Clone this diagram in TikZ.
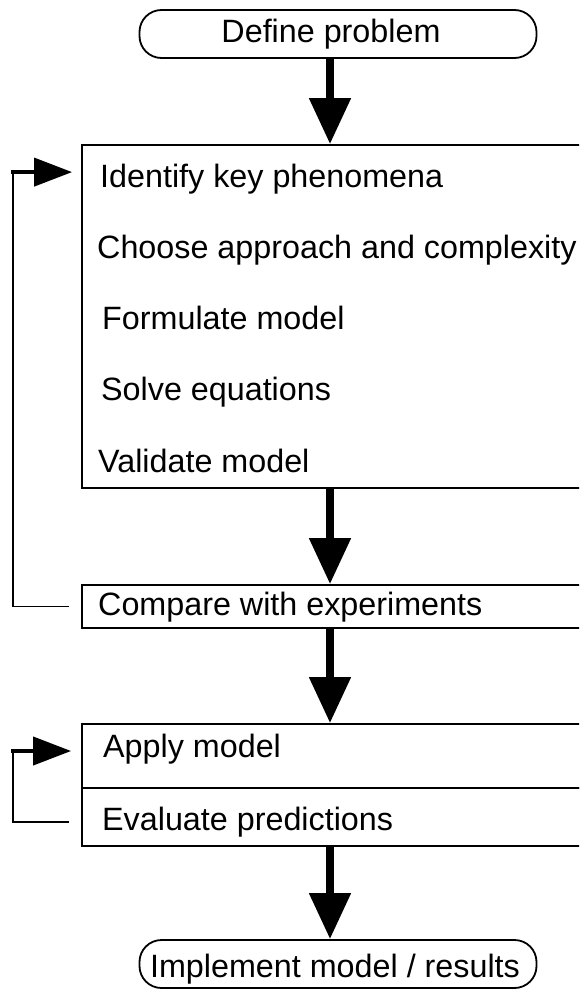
\documentclass[tikz,border=0pt]{standalone}
\usepackage{fontspec}
\setmainfont{Liberation Sans}
\usetikzlibrary{arrows.meta}
\begin{document}
\begin{tikzpicture}[x=1pt,y=-1pt,
  every node/.style={font=\fontsize{32.3}{38}\selectfont},
  box/.style={draw, line width=1.8pt, inner sep=0pt},
  term/.style={draw, line width=1.8pt, inner sep=0pt, rounded corners=22pt, minimum width=397pt, minimum height=48pt},
  label/.style={anchor=base west, inner sep=0pt},
  bigarrow/.style={line width=8pt, -{Triangle[length=46pt,width=40pt]}},
  fbline/.style={line width=1.8pt},
  fbtip/.style={line width=4pt, -{Triangle[length=38pt,width=28pt]}}]
\useasboundingbox (0,0) rectangle (579,990);
\clip (0,0) rectangle (579,990);
% terminals
\node[term] (define) at (338,34) {};
\node[anchor=base] (definet) at (331,43) {Define problem};
\node[term] (implement) at (338,964) {};
\node[anchor=base] (implementt) at (335,977) {Implement model / results};
% main box
\node[box, minimum width=518pt, minimum height=343pt] (main) at (341,316.5) {};
\node[label] (t1) at (100,187) {Identify key phenomena};
\node[label] (t2) at (97,258) {Choose approach and complexity};
\node[label] (t3) at (102,329) {Formulate model};
\node[label] (t4) at (101,400) {Solve equations};
\node[label] (t5) at (98,472) {Validate model};
% compare
\node[box, minimum width=518pt, minimum height=43pt] (compare) at (341,606.5) {};
\node[label] (t6) at (98,615) {Compare with experiments};
% apply / evaluate
\node[box, minimum width=518pt, minimum height=64pt] (apply) at (341,756) {};
\node[box, minimum width=518pt, minimum height=58pt] (evaluate) at (341,817) {};
\node[label] (t7) at (103,757) {Apply model};
\node[label] (t8) at (102,830) {Evaluate predictions};
% main arrows
\coordinate (ax) at (330,0);
\draw[bigarrow] (define.south -| ax) -- (main.north -| ax);
\draw[bigarrow] (main.south -| ax) -- (compare.north -| ax);
\draw[bigarrow] (compare.south -| ax) -- (apply.north -| ax);
\draw[bigarrow] (evaluate.south -| ax) -- (implement.north -| ax);
% feedback loop 1
\coordinate (lx) at (13,0);
\coordinate (f1s) at ([xshift=-12pt]compare.west);
\coordinate (f1e) at ([xshift=-9pt,yshift=-28pt]main.north west);
\draw[fbline] (f1s) -- (f1s -| lx) -- (lx |- f1e) -- ([xshift=-36pt]f1e);
\draw[fbtip] ([xshift=-61pt]f1e) -- (f1e);
% feedback loop 2
\coordinate (f2s) at ([xshift=-12pt,yshift=-5pt]evaluate.west);
\coordinate (f2e) at ([xshift=-10pt,yshift=5pt]apply.west);
\draw[fbline] (f2s) -- (f2s -| lx) -- (lx |- f2e) -- ([xshift=-36pt]f2e);
\draw[fbtip] ([xshift=-60pt]f2e) -- (f2e);
\end{tikzpicture}
\end{document}
